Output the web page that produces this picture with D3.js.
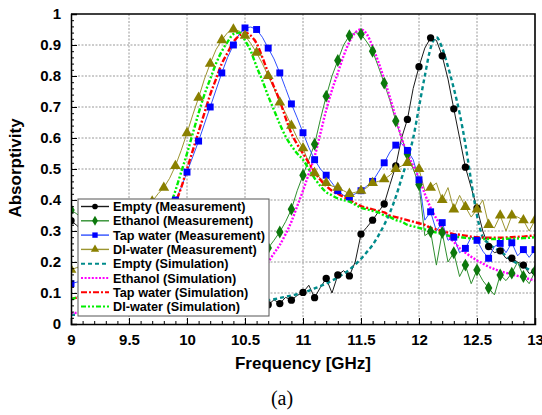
<!DOCTYPE html>
<html><head><meta charset="utf-8">
<script src="https://cdn.jsdelivr.net/npm/d3@7"></script>
<style>body{margin:0;background:#fff}svg{display:block}</style>
</head><body>
<svg id="chart" width="542" height="415"></svg>
<script>
// Frequency sweep, 9–13 GHz in 0.05 GHz steps
const freq = d3.range(81).map(i => +(9 + i * 0.05).toFixed(2));

// Measured absorptivity
const emptyMeas = [
  0.333,0.318,0.300,0.285,0.270,0.255,0.240,0.225,0.210,0.195,
  0.180,0.170,0.160,0.150,0.140,0.130,0.120,0.112,0.105,0.100,
  0.095,0.090,0.085,0.081,0.078,0.075,0.072,0.069,0.067,0.065,
  0.063,0.062,0.060,0.061,0.062,0.078,0.066,0.086,0.077,0.092,
  0.102,0.125,0.085,0.118,0.147,0.100,0.158,0.172,0.155,0.200,
  0.290,0.312,0.335,0.362,0.387,0.450,0.510,0.600,0.660,0.760,
  0.830,0.890,0.923,0.915,0.865,0.790,0.694,0.600,0.506,0.440,
  0.374,0.300,0.250,0.230,0.236,0.212,0.212,0.200,0.190,0.163,
  0.170];
const ethanolMeas = [
  0.368,0.355,0.340,0.325,0.310,0.295,0.280,0.270,0.260,0.250,
  0.240,0.230,0.220,0.212,0.205,0.200,0.195,0.190,0.185,0.182,
  0.180,0.180,0.180,0.180,0.181,0.183,0.185,0.188,0.191,0.195,
  0.200,0.207,0.215,0.228,0.245,0.270,0.297,0.330,0.370,0.430,
  0.480,0.530,0.580,0.660,0.735,0.800,0.850,0.900,0.930,0.940,
  0.935,0.910,0.880,0.830,0.777,0.720,0.655,0.600,0.548,0.500,
  0.450,0.285,0.298,0.190,0.295,0.200,0.230,0.153,0.190,0.130,
  0.174,0.140,0.116,0.094,0.158,0.140,0.164,0.200,0.153,0.130,
  0.170];
const tapMeas = [
  0.130,0.135,0.140,0.147,0.155,0.162,0.170,0.180,0.190,0.200,
  0.210,0.225,0.240,0.262,0.290,0.315,0.340,0.368,0.400,0.440,
  0.490,0.540,0.590,0.645,0.700,0.755,0.810,0.860,0.900,0.935,
  0.955,0.958,0.950,0.925,0.890,0.855,0.810,0.760,0.710,0.665,
  0.617,0.570,0.530,0.500,0.480,0.455,0.430,0.415,0.410,0.420,
  0.430,0.445,0.460,0.490,0.520,0.555,0.577,0.582,0.560,0.530,
  0.465,0.335,0.362,0.300,0.327,0.270,0.280,0.230,0.244,0.280,
  0.270,0.235,0.212,0.250,0.260,0.230,0.262,0.220,0.240,0.215,
  0.240];
const diMeas = [
  0.175,0.182,0.190,0.200,0.210,0.220,0.230,0.245,0.260,0.275,
  0.290,0.310,0.330,0.360,0.395,0.420,0.440,0.470,0.510,0.560,
  0.616,0.675,0.730,0.790,0.840,0.885,0.916,0.940,0.950,0.945,
  0.930,0.905,0.875,0.840,0.800,0.760,0.715,0.680,0.640,0.600,
  0.567,0.520,0.487,0.470,0.455,0.445,0.440,0.430,0.420,0.425,
  0.430,0.440,0.455,0.460,0.467,0.480,0.500,0.510,0.520,0.505,
  0.500,0.430,0.440,0.455,0.400,0.440,0.370,0.415,0.378,0.345,
  0.370,0.400,0.320,0.310,0.350,0.300,0.350,0.345,0.335,0.300,
  0.335];

// Simulated absorptivity
const emptySim = [
  0.030,0.030,0.031,0.031,0.032,0.032,0.033,0.034,0.034,0.035,
  0.036,0.037,0.038,0.039,0.040,0.041,0.042,0.044,0.045,0.047,
  0.048,0.050,0.051,0.053,0.054,0.056,0.058,0.060,0.062,0.064,
  0.066,0.068,0.071,0.074,0.077,0.080,0.084,0.088,0.092,0.096,
  0.100,0.107,0.115,0.122,0.130,0.140,0.150,0.162,0.175,0.192,
  0.210,0.232,0.255,0.285,0.320,0.360,0.410,0.470,0.530,0.600,
  0.700,0.800,0.890,0.925,0.890,0.830,0.760,0.680,0.580,0.460,
  0.350,0.280,0.260,0.245,0.235,0.220,0.205,0.195,0.185,0.175,
  0.165];
const ethanolSim = [
  0.035,0.036,0.037,0.038,0.039,0.040,0.041,0.042,0.043,0.044,
  0.045,0.047,0.049,0.051,0.053,0.055,0.057,0.059,0.061,0.063,
  0.066,0.070,0.074,0.078,0.083,0.089,0.095,0.102,0.110,0.120,
  0.130,0.143,0.158,0.178,0.200,0.228,0.255,0.290,0.330,0.380,
  0.430,0.485,0.540,0.615,0.690,0.755,0.810,0.865,0.910,0.940,
  0.950,0.935,0.895,0.845,0.790,0.730,0.665,0.600,0.550,0.510,
  0.470,0.420,0.375,0.340,0.310,0.285,0.265,0.245,0.230,0.217,
  0.205,0.195,0.185,0.177,0.170,0.165,0.160,0.155,0.150,0.145,
  0.140];
const tapSim = [
  0.080,0.085,0.090,0.095,0.100,0.107,0.115,0.122,0.130,0.140,
  0.150,0.163,0.180,0.200,0.230,0.268,0.310,0.350,0.390,0.440,
  0.500,0.560,0.620,0.680,0.740,0.790,0.840,0.875,0.910,0.930,
  0.940,0.930,0.905,0.860,0.810,0.765,0.720,0.665,0.615,0.580,
  0.550,0.520,0.490,0.465,0.445,0.430,0.420,0.410,0.400,0.390,
  0.380,0.375,0.370,0.365,0.360,0.350,0.345,0.340,0.335,0.330,
  0.325,0.320,0.310,0.305,0.300,0.295,0.290,0.288,0.285,0.282,
  0.280,0.279,0.278,0.278,0.278,0.279,0.280,0.281,0.282,0.284,
  0.286];
const diSim = [
  0.080,0.086,0.092,0.098,0.105,0.113,0.122,0.132,0.143,0.155,
  0.168,0.185,0.205,0.230,0.260,0.295,0.330,0.375,0.430,0.490,
  0.550,0.615,0.680,0.740,0.790,0.840,0.880,0.910,0.935,0.940,
  0.915,0.880,0.830,0.785,0.735,0.690,0.645,0.605,0.575,0.550,
  0.530,0.500,0.470,0.445,0.425,0.415,0.405,0.400,0.395,0.385,
  0.375,0.370,0.365,0.360,0.350,0.345,0.335,0.330,0.320,0.315,
  0.310,0.305,0.300,0.295,0.290,0.285,0.282,0.280,0.278,0.276,
  0.275,0.274,0.274,0.274,0.274,0.275,0.275,0.276,0.277,0.278,
  0.280];

const xTicks = [9, 9.5, 10, 10.5, 11, 11.5, 12, 12.5, 13];
const xTickLabels = ["9","9.5","10","10.5","11","11.5","12","12.5","13"];
const yTicks = [0, 0.1, 0.2, 0.3, 0.4, 0.5, 0.6, 0.7, 0.8, 0.9, 1];
const yTickLabels = ["0","0.1","0.2","0.3","0.4","0.5","0.6","0.7","0.8","0.9","1"];

const FONT = "'Liberation Sans', Arial, sans-serif";
const svg = d3.select("#chart");
const x = d3.scaleLinear().domain([9, 13]).range([71, 535]);
const y = d3.scaleLinear().domain([0, 1]).range([324, 14]);

// dotted grid
const grid = svg.append("g").attr("stroke", "#9a9a9a").attr("stroke-width", 1)
  .attr("stroke-dasharray", "2,1.5");
xTicks.slice(1, -1).forEach(t => grid.append("line")
  .attr("x1", x(t)).attr("x2", x(t)).attr("y1", y(0)).attr("y2", y(1)));
yTicks.slice(1, -1).forEach(t => grid.append("line")
  .attr("x1", x(9)).attr("x2", x(13)).attr("y1", y(t)).attr("y2", y(t)));

// series definitions
const measSeries = [
  {name: "Empty (Measurement)", v: emptyMeas, line: "#1a1a1a", fill: "#000", sym: d3.symbolCircle, size: 42},
  {name: "Ethanol (Measurement)", v: ethanolMeas, line: "#2f8f2f", fill: "#0c780c", sym: d3.symbolDiamond, size: 48},
  {name: "Tap water (Measurement)", v: tapMeas, line: "#3050ff", fill: "#0000ff", sym: d3.symbolSquare, size: 48},
  {name: "DI-water (Measurement)", v: diMeas, line: "#9c9530", fill: "#8a8000", sym: d3.symbolTriangle, size: 50}
];
const simSeries = [
  {name: "Empty (Simulation)", v: emptySim, color: "#008b8b", dash: "4,3"},
  {name: "Ethanol (Simulation)", v: ethanolSim, color: "#ff00ff", dash: "2,1.6"},
  {name: "Tap water (Simulation)", v: tapSim, color: "#ff0000", dash: "6,2,2,2"},
  {name: "DI-water (Simulation)", v: diSim, color: "#00ee00", dash: "5,2,2,2,2,2"}
];

svg.append("clipPath").attr("id", "plotclip").append("rect")
  .attr("x", x(9)).attr("y", y(1)).attr("width", x(13) - x(9)).attr("height", y(0) - y(1));
const plot = svg.append("g").attr("clip-path", "url(#plotclip)");

const measLine = d3.line().x((d, i) => x(freq[i])).y(d => y(d));
const simLine = d3.line().x((d, i) => x(freq[i])).y(d => y(d)).curve(d3.curveMonotoneX);

measSeries.forEach(s => plot.append("path").datum(s.v)
  .attr("d", measLine).attr("fill", "none").attr("stroke", s.line).attr("stroke-width", 1));
simSeries.forEach(s => plot.append("path").datum(s.v)
  .attr("d", simLine).attr("fill", "none").attr("stroke", s.color)
  .attr("stroke-width", 2.4).attr("stroke-dasharray", s.dash));

// markers every 0.1 GHz
measSeries.forEach(s => {
  const pts = s.v.map((d, i) => ({f: freq[i], a: d})).filter((d, i) => i % 2 === 0);
  plot.append("g").selectAll("path").data(pts).join("path")
    .attr("transform", d => `translate(${x(d.f)},${y(d.a)})`)
    .attr("d", d3.symbol(s.sym, s.size)).attr("fill", s.fill);
});

// axes with inward ticks
const yMinor = d3.range(0, 1.0001, 0.02).map(v => +v.toFixed(2));
const xMinor = d3.range(9, 13.0001, 0.1).map(v => +v.toFixed(1));
svg.append("g").attr("transform", `translate(${x(9)},0)`)
  .call(d3.axisLeft(y).tickValues(yMinor).tickSize(-3).tickFormat(""))
  .call(g => g.select(".domain").remove());
svg.append("g").attr("transform", `translate(0,${y(0)})`)
  .call(d3.axisBottom(x).tickValues(xMinor).tickSize(-3).tickFormat(""))
  .call(g => g.select(".domain").remove());
const yAxis = svg.append("g").attr("transform", `translate(${x(9)},0)`)
  .call(d3.axisLeft(y).tickValues(yTicks).tickSize(-6).tickPadding(10)
    .tickFormat((d, i) => yTickLabels[i]));
const xAxis = svg.append("g").attr("transform", `translate(0,${y(0)})`)
  .call(d3.axisBottom(x).tickValues(xTicks).tickSize(-6).tickPadding(10)
    .tickFormat((d, i) => xTickLabels[i]));
[yAxis, xAxis].forEach(g => {
  g.selectAll("text").attr("font-family", FONT).attr("font-weight", "bold")
    .attr("font-size", 15).attr("fill", "#000");
  g.select(".domain").attr("stroke-width", 1.5);
});
// top and right frame
svg.append("path").attr("fill", "none").attr("stroke", "#000").attr("stroke-width", 1.6)
  .attr("d", `M${x(9)},${y(1)}H${x(13)}V${y(0)}`);

// legend
const lg = svg.append("g");
lg.append("rect").attr("x", 78).attr("y", 199).attr("width", 191).attr("height", 117)
  .attr("fill", "#fff").attr("stroke", "#555").attr("stroke-width", 1);
const rowY = i => 206.5 + i * 14.3;
measSeries.forEach((s, i) => {
  lg.append("line").attr("x1", 81).attr("x2", 109).attr("y1", rowY(i)).attr("y2", rowY(i))
    .attr("stroke", s.line).attr("stroke-width", 1.4);
  lg.append("path").attr("transform", `translate(95,${rowY(i)})`)
    .attr("d", d3.symbol(s.sym, s.size * 0.6)).attr("fill", s.fill);
});
simSeries.forEach((s, j) => {
  const i = j + 4;
  lg.append("line").attr("x1", 81).attr("x2", 109).attr("y1", rowY(i)).attr("y2", rowY(i))
    .attr("stroke", s.color).attr("stroke-width", 2).attr("stroke-dasharray", s.dash);
});
[...measSeries, ...simSeries].forEach((s, i) => {
  lg.append("text").attr("x", 113).attr("y", rowY(i)).attr("dy", "0.36em")
    .attr("font-family", FONT).attr("font-weight", "bold").attr("font-size", 12.7)
    .text(s.name);
});

// axis titles
svg.append("text").attr("x", x(11)).attr("y", 369).attr("text-anchor", "middle")
  .attr("font-family", FONT).attr("font-weight", "bold").attr("font-size", 17)
  .text("Frequency [GHz]");
svg.append("text").attr("transform", "translate(21,168) rotate(-90)").attr("text-anchor", "middle")
  .attr("font-family", FONT).attr("font-weight", "bold").attr("font-size", 17)
  .text("Absorptivity");
svg.append("text").attr("x", 282).attr("y", 405).attr("text-anchor", "middle")
  .attr("font-family", "'Liberation Serif', 'Times New Roman', serif").attr("font-size", 20)
  .text("(a)");
</script>
</body></html>
